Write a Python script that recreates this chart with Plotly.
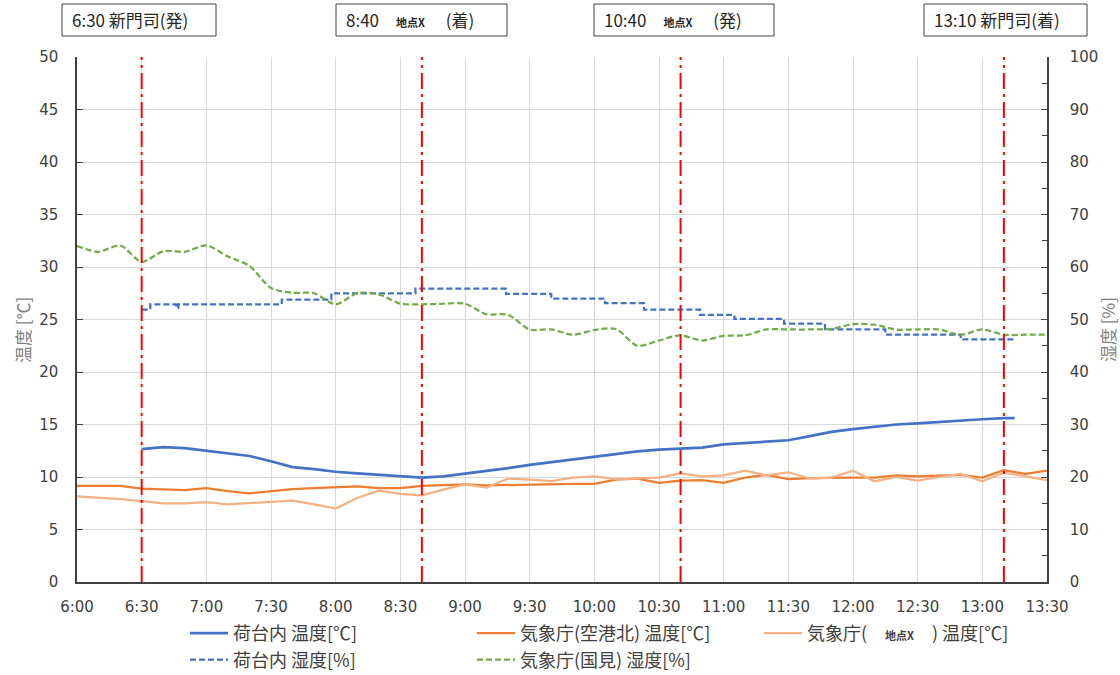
import plotly.graph_objects as go
import pandas as pd

# ---------------- data ----------------
times_10min = ["6:00", "6:10", "6:20", "6:30", "6:40", "6:50",
               "7:00", "7:10", "7:20", "7:30", "7:40", "7:50",
               "8:00", "8:10", "8:20", "8:30", "8:40", "8:50",
               "9:00", "9:10", "9:20", "9:30", "9:40", "9:50",
               "10:00", "10:10", "10:20", "10:30", "10:40", "10:50",
               "11:00", "11:10", "11:20", "11:30", "11:40", "11:50",
               "12:00", "12:10", "12:20", "12:30", "12:40", "12:50",
               "13:00", "13:10", "13:20", "13:30"]

airport_temp = [9.15, 9.15, 9.15, 8.9, 8.85, 8.75,
                8.95, 8.65, 8.45, 8.65, 8.85, 8.95,
                9.05, 9.1, 8.95, 8.95, 9.15, 9.2,
                9.3, 9.2, 9.25, 9.3, 9.3, 9.35,
                9.35, 9.75, 9.85, 9.45, 9.65, 9.7,
                9.45, 9.95, 10.2, 9.8, 9.9, 9.95,
                9.95, 9.95, 10.15, 10.05, 10.1, 10.2,
                9.95, 10.65, 10.3, 10.6]

pointx_temp = [8.15, 8.05, 7.9, 7.7, 7.5, 7.5,
               7.6, 7.4, 7.5, 7.6, 7.75, 7.4,
               7.0, 8.0, 8.7, 8.4, 8.25, 8.8,
               9.3, 9.0, 9.85, 9.75, 9.6, 9.95,
               10.05, 9.8, 9.85, 9.95, 10.35, 10.05,
               10.15, 10.6, 10.15, 10.45, 9.85, 9.95,
               10.6, 9.6, 10.0, 9.65, 10.0, 10.3,
               9.6, 10.4, 10.05, 9.7]

kunimi_hum = [64.0, 62.9, 64.1, 61.0, 63.0, 62.9,
              64.1, 62.0, 60.2, 56.0, 55.1, 55.0,
              52.9, 55.0, 54.8, 53.0, 52.9, 53.0,
              53.0, 51.0, 50.9, 48.1, 48.1, 47.1,
              48.0, 48.2, 45.0, 46.0, 47.0, 46.0,
              46.9, 47.0, 48.1, 48.1, 48.1, 48.2,
              49.1, 49.0, 48.1, 48.1, 48.1, 47.1,
              48.1, 47.1, 47.1, 47.1]

cargo_temp_times = ["6:30", "6:40", "6:50", "7:00", "7:10", "7:20", "7:30", "7:40",
                    "7:50", "8:00", "8:10", "8:20", "8:30", "8:40", "8:50", "9:00",
                    "9:10", "9:20", "9:30", "9:40", "9:50", "10:00", "10:10", "10:20",
                    "10:30", "10:40", "10:50", "11:00", "11:10", "11:20", "11:30", "11:40",
                    "11:50", "12:00", "12:10", "12:20", "12:30", "12:40", "12:50", "13:00",
                    "13:10", "13:15"]
cargo_temp = [12.65, 12.85, 12.75, 12.5, 12.3, 12.0, 11.5, 10.95,
              10.75, 10.5, 10.35, 10.2, 10.1, 9.95, 10.05, 10.3,
              10.6, 10.85, 11.15, 11.4, 11.7, 11.95, 12.2, 12.45,
              12.6, 12.72, 12.8, 13.1, 13.25, 13.35, 13.5, 13.9,
              14.3, 14.55, 14.8, 15.0, 15.1, 15.25, 15.4, 15.5,
              15.6, 15.6]

cargo_hum_times = ["6:30", "6:34", "6:46", "6:47", "7:35", "7:58", "8:37", "9:19",
                   "9:40", "10:05", "10:23", "10:49", "11:05", "11:28", "11:47",
                   "12:15", "12:50", "13:15"]
cargo_hum = [51.9, 52.9, 52.2, 52.9, 53.8, 55.0, 55.9, 54.9,
             54.0, 53.1, 51.9, 50.9, 50.1, 49.2, 48.1,
             47.1, 46.2, 46.2]

PX = "<b><span style='font-size:11px'>地点X</span></b>"
event_times = ["6:30", "8:40", "10:40", "13:10"]
event_labels = ["6:30 新門司(発)",
                "8:40　" + PX + "　 (着)",
                "10:40　" + PX + "　 (発)",
                "13:10 新門司(着)"]
# label box extents (pixels) -- layout only
box_px = [(62, 216), (336, 507), (594, 774), (924, 1087)]

series_names = ["荷台内 温度[℃]", "気象庁(空港北) 温度[℃]",
                "気象庁(　" + PX + "　) 温度[℃]",
                "荷台内 湿度[%]", "気象庁(国見) 湿度[%]"]


def to_dt(lst):
    return pd.to_datetime(["2024-01-01 " + s.zfill(5) for s in lst])


# ---------------- figure ----------------
W, H = 1120, 675
ML, MR, MT, MB = 77, 73, 57, 93
PW, PH = W - ML - MR, H - MT - MB


def pxx(p):
    return (p - ML) / PW


def pxy(p):
    return (H - MB - p) / PH


fig = go.Figure()

fig.add_trace(go.Scatter(x=to_dt(cargo_temp_times), y=cargo_temp, name=series_names[0],
                         mode="lines", line=dict(color="#4472C4", width=2.75)))
fig.add_trace(go.Scatter(x=to_dt(times_10min), y=airport_temp, name=series_names[1],
                         mode="lines", line=dict(color="#ED7D31", width=2.25)))
fig.add_trace(go.Scatter(x=to_dt(times_10min), y=pointx_temp, name=series_names[2],
                         mode="lines", line=dict(color="#F4B183", width=2.25)))
fig.add_trace(go.Scatter(x=to_dt(cargo_hum_times), y=cargo_hum, name=series_names[3],
                         yaxis="y2", mode="lines",
                         line=dict(color="#4472C4", width=2.25, dash="6px,3px", shape="hv")))
fig.add_trace(go.Scatter(x=to_dt(times_10min), y=kunimi_hum, name=series_names[4],
                         yaxis="y2", mode="lines",
                         line=dict(color="#70AD47", width=2.25, dash="6px,3px",
                                   shape="spline", smoothing=0.8)))

# event vertical lines
for t in to_dt(event_times):
    fig.add_shape(type="line", xref="x", yref="paper", x0=t, x1=t, y0=0, y1=1,
                  line=dict(color="#FF0000", width=2, dash="16px,5px,3px,5px"), layer="above")

# event boxes at top
for (x0p, x1p), lab in zip(box_px, event_labels):
    fig.add_shape(type="rect", xref="paper", yref="paper", x0=pxx(x0p), x1=pxx(x1p),
                  y0=pxy(36), y1=pxy(4),
                  line=dict(color="#404040", width=1), fillcolor="white", layer="above")
    fig.add_annotation(xref="paper", yref="paper", x=pxx(x0p + 8), y=pxy(20),
                       xanchor="left", yanchor="middle", text=lab, showarrow=False,
                       font=dict(family="Noto Sans CJK JP", size=17, color="#262626"))

title_font = dict(family="Noto Sans CJK JP", size=17, color="#7F7F7F")
fig.add_annotation(xref="paper", yref="paper", x=pxx(22), y=pxy(330), textangle=-90,
                   xanchor="center", yanchor="middle", text="温度 [℃]", showarrow=False,
                   font=title_font)
fig.add_annotation(xref="paper", yref="paper", x=pxx(1107), y=pxy(330), textangle=-90,
                   xanchor="center", yanchor="middle", text="湿度 [%]", showarrow=False,
                   font=title_font)

tick_font = dict(family="DejaVu Sans", size=15, color="#404040")

fig.update_layout(
    width=W, height=H,
    margin=dict(l=ML, r=MR, t=MT, b=MB, autoexpand=False),
    plot_bgcolor="white", paper_bgcolor="white",
    showlegend=True,
    legend=dict(orientation="h", x=pxx(185), xanchor="left",
                y=pxy(615), yanchor="top", entrywidth=234, entrywidthmode="pixels",
                font=dict(family="Noto Sans CJK JP", size=18, color="#404040"),
                traceorder="normal", itemwidth=38, bgcolor="rgba(0,0,0,0)"),
    xaxis=dict(type="date", range=["2024-01-01 06:00", "2024-01-01 13:30"],
               dtick=1800000, tickformat="%-H:%M", tick0="2024-01-01 06:00",
               showgrid=True, gridcolor="#D9D9D9", gridwidth=1,
               showline=True, linecolor="#404040", linewidth=1.5,
               ticks="", tickfont=tick_font, ticklabelstandoff=10),
    yaxis=dict(range=[0, 50], dtick=5, showgrid=True, gridcolor="#D9D9D9", gridwidth=1,
               showline=True, linecolor="#404040", linewidth=1.5, zeroline=False,
               ticks="inside", ticklen=6, tickcolor="#404040",
               tickfont=tick_font, ticklabelstandoff=14),
    yaxis2=dict(range=[0, 100], dtick=10, overlaying="y", side="right", showgrid=False,
                showline=True, linecolor="#404040", linewidth=1.5, zeroline=False,
                ticks="inside", ticklen=6, tickcolor="#404040",
                minor=dict(dtick=5, ticks="inside", ticklen=5, tickcolor="#404040"),
                tickfont=tick_font, ticklabelstandoff=18),
)

fig.write_html("out.html", config={"displayModeBar": False},
               post_script="document.body.style.margin='0';document.body.style.padding='0';")
